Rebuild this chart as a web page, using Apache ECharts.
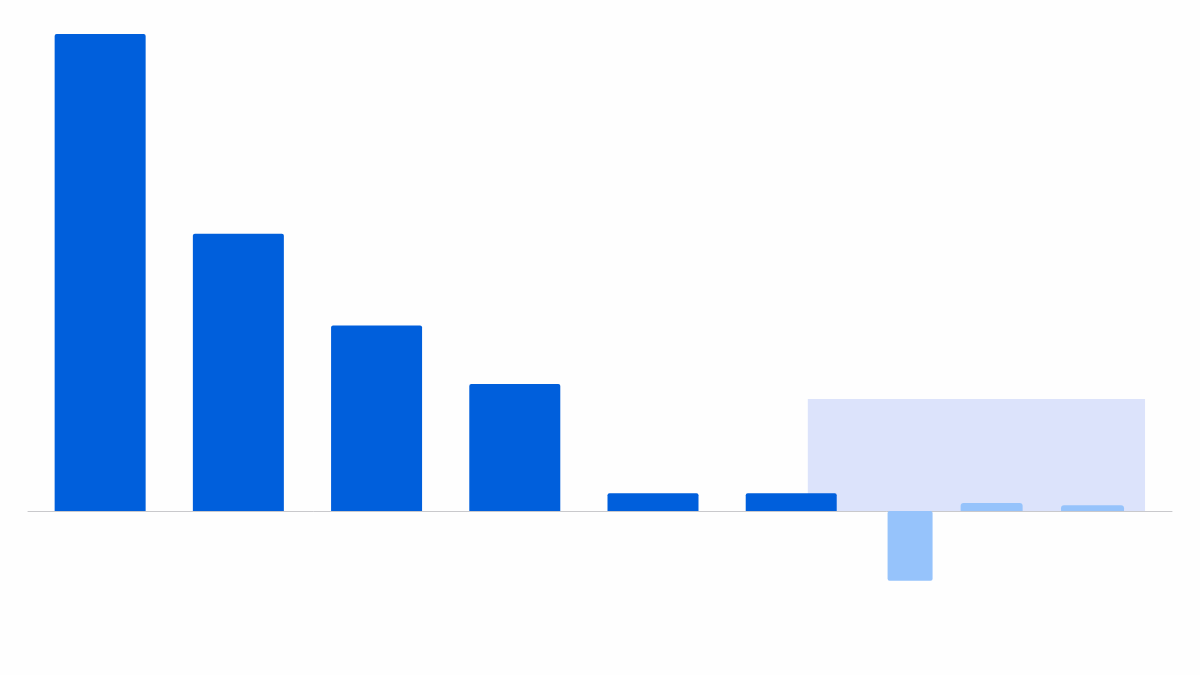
<!DOCTYPE html>
<html>
<head>
    <meta charset="UTF-8">
    <title></title>
    <script type="text/javascript" src="https://cdn.jsdelivr.net/npm/echarts@6/dist/echarts.min.js"></script>
    <style>
        html, body { margin: 0; padding: 0; background: #fefefe; }
    </style>
</head>
<body>
<div id="main" style="width: 1200px;height:675px;"></div>
<script type="text/javascript">
    // actual bars: position on x, value
    var barPos = [0, 1, 2, 3, 4, 5];
    var barValues = [100, 58.1, 38.9, 26.6, 3.7, 3.7];

    // projected bars (lighter)
    var projPos = [5.86, 6.45, 7.18];
    var projValues = [-14.6, 1.7, 1.2];

    // shaded band behind the projection
    var bandX = [5.12, 7.56];
    var bandTop = 23.5;

    var xMin = -0.522, xMax = 7.755;

    function pairs(xs, ys) {
        var out = [];
        for (var i = 0; i < xs.length; i++) {
            out.push([xs[i], ys[i]]);
        }
        return out;
    }

    function hiddenX(show) {
        return {
            type: 'value',
            min: xMin,
            max: xMax,
            show: show,
            axisLine: {show: show, onZero: true, lineStyle: {color: '#c9c9cc', width: 1}},
            axisTick: {show: false},
            axisLabel: {show: false},
            splitLine: {show: false}
        };
    }

    var myChart = echarts.init(document.getElementById('main'));

    var option = {
        backgroundColor: '#fefefe',
        animation: false,
        grid: {left: 28, right: 28, top: 34, bottom: 68.6},
        xAxis: [hiddenX(true), hiddenX(false), hiddenX(false), hiddenX(false), hiddenX(false)],
        yAxis: {
            type: 'value',
            min: -20,
            max: 100,
            show: false,
            splitLine: {show: false}
        },
        series: [
            {
                // band only
                type: 'bar',
                xAxisIndex: 4,
                data: [],
                z: 1,
                markArea: {
                    silent: true,
                    itemStyle: {color: '#dce3fb', borderRadius: 3},
                    data: [[{coord: [bandX[0], 0]}, {coord: [bandX[1], bandTop]}]]
                }
            },
            {
                type: 'bar',
                xAxisIndex: 0,
                barWidth: 91,
                z: 3,
                itemStyle: {color: '#005fdc', borderRadius: [2, 2, 0, 0]},
                data: pairs(barPos, barValues)
            },
            {
                type: 'bar',
                xAxisIndex: 1,
                barWidth: 45,
                z: 2,
                itemStyle: {color: '#96c3fb', borderRadius: 2},
                data: [[projPos[0], projValues[0]]]
            },
            {
                type: 'bar',
                xAxisIndex: 2,
                barWidth: 62,
                z: 2,
                itemStyle: {color: '#96c3fb', borderRadius: [3, 3, 0, 0]},
                data: [[projPos[1], projValues[1]]]
            },
            {
                type: 'bar',
                xAxisIndex: 3,
                barWidth: 63,
                z: 2,
                itemStyle: {color: '#96c3fb', borderRadius: [3, 3, 0, 0]},
                data: [[projPos[2], projValues[2]]]
            }
        ]
    };

    myChart.setOption(option);
</script>
</body>
</html>
